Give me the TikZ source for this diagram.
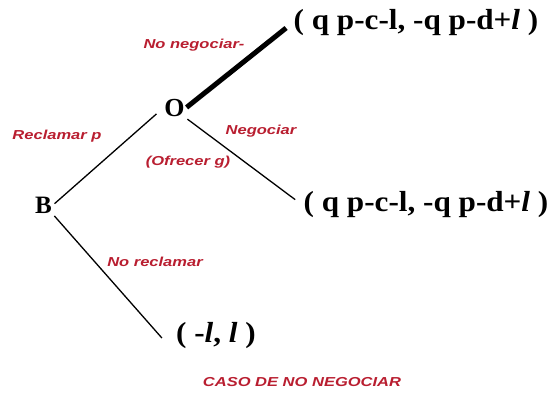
\documentclass[tikz,border=0pt]{standalone}
\usepackage{fontspec}
\setmainfont{Liberation Serif}
\newfontfamily\labelfont{Liberation Sans}
\definecolor{movered}{RGB}{185,30,48}

\tikzset{
  player/.style={font=\bfseries\fontsize{25}{25}\selectfont, inner sep=1pt},
  payoff/.style={font=\bfseries\fontsize{29}{29}\selectfont, xscale=1.075, inner sep=1pt},
  move/.style={font=\labelfont\bfseries\itshape\fontsize{13}{13}\selectfont,
    text=movered, xscale=1.27, inner sep=0pt},
  branch/.style={line width=1.3pt},
  chosen/.style={line width=5pt}
}

\begin{document}
\begin{tikzpicture}[x=1pt, y=-1pt]
  \fill[white] (0,0) rectangle (549,396);
  \useasboundingbox (0,0) rectangle (549,396);

  % decision nodes
  \node[player] (B) at (43.5,205) {B};
  \node[player, font=\bfseries\fontsize{26}{26}\selectfont] (O) at (174.5,108) {O};

  % payoffs
  \node[payoff] (nonego) at (416,23) {( q p-c-l, -q p-d+\textit{l} )};
  \node[payoff] (nego) at (426,205) {( q p-c-l, -q p-d+\textit{l} )};
  \node[payoff] (norecl) at (216,336) {( -\textit{l}, \textit{l} )};

  % branches
  \draw[branch, shorten <=2pt, shorten >=9pt] (B.east) -- (O.west);
  \draw[branch, shorten <=2pt] (B.south east) -- ([xshift=-13pt, yshift=-2pt]norecl.west);
  \draw[branch, shorten <=2pt, shorten >=9pt] (O.south east) -- (nego.west);
  \draw[chosen, shorten <=1pt, shorten >=8pt] (O.east) -- (nonego.west);

  % move labels
  \node[move] (lnonego) at (194,45) {No negociar-};
  \node[move] (lrecl) at (57,136) {Reclamar p};
  \node[move] (lnego) at (261,131) {Negociar};
  \node[move] (lofrecer) at (188,162) {(Ofrecer g)};
  \node[move] (lnorecl) at (155,262) {No reclamar};
  \node[move] (caso) at (302,382) {CASO DE NO NEGOCIAR};
\end{tikzpicture}
\end{document}
